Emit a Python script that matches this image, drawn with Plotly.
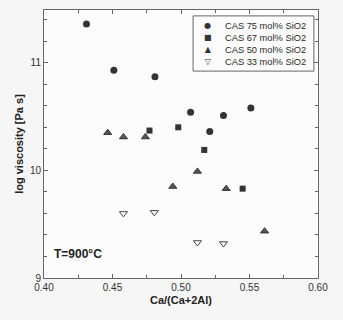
import plotly.graph_objects as go

x75 = [0.431, 0.451, 0.481, 0.507, 0.521, 0.531, 0.551]
y75 = [11.36, 10.93, 10.87, 10.54, 10.36, 10.51, 10.58]
x67 = [0.477, 0.498, 0.517, 0.545]
y67 = [10.37, 10.40, 10.19, 9.83]
x50 = [0.4465, 0.458, 0.474, 0.494, 0.512, 0.533, 0.561]
y50 = [10.35, 10.31, 10.31, 9.85, 9.99, 9.83, 9.435]
x33 = [0.458, 0.4805, 0.512, 0.531]
y33 = [9.60, 9.61, 9.33, 9.32]
names = ["CAS 75 mol% SiO2", "CAS 67 mol% SiO2", "CAS 50 mol% SiO2", "CAS 33 mol% SiO2"]
legend_glyphs = ["\u25CF", "\u25A0", "\u25B2", "\u25BD"]

FONT = "Liberation Sans, Arial"

fig = go.Figure()
fig.add_trace(go.Scatter(x=x75, y=y75, mode="markers", name=names[0],
                         marker=dict(symbol="circle", size=7, color="#333333")))
fig.add_trace(go.Scatter(x=x67, y=y67, mode="markers", name=names[1],
                         marker=dict(symbol="square", size=6, color="#333333")))
fig.add_trace(go.Scatter(x=x50, y=y50, mode="markers", name=names[2],
                         marker=dict(symbol="triangle-up", size=7, color="#555555",
                                     line=dict(color="#333333", width=1))))
fig.add_trace(go.Scatter(x=x33, y=y33, mode="markers", name=names[3],
                         marker=dict(symbol="triangle-down-open", size=7, color="#444444",
                                     line=dict(width=1))))

axis_common = dict(showline=True, linecolor="#666666", linewidth=1, mirror="ticks",
                   ticks="inside", ticklen=4, tickcolor="#666666", showgrid=False,
                   zeroline=False, automargin=False,
                   tickfont=dict(family=FONT, size=10, color="#333333"))

fig.update_xaxes(range=[0.40, 0.60], tickvals=[0.40, 0.45, 0.50, 0.55, 0.60],
                 ticktext=["0.40", "0.45", "0.50", "0.55", "0.60"],
                 minor=dict(dtick=0.025, tick0=0.4, ticks="inside", ticklen=3, tickcolor="#666666"),
                 title=dict(text="<b>Ca/(Ca+2Al)</b>", font=dict(family=FONT, size=11, color="#222222"), standoff=4),
                 **axis_common)
fig.update_yaxes(range=[9, 11.49], tickvals=[9, 10, 11],
                 minor=dict(dtick=0.2, tick0=9, ticks="inside", ticklen=3, tickcolor="#666666"),
                 title=dict(text="<b>log viscosity [Pa s]</b>", font=dict(family=FONT, size=11, color="#222222"), standoff=4),
                 **axis_common)

fig.add_annotation(x=0.03, y=0.09, xref="paper", yref="paper", xanchor="left", yanchor="middle",
                   text="<b>T=900°C</b>", showarrow=False,
                   font=dict(family=FONT, size=12, color="#222222"))

# compact legend box (native legend rows are too tall for this figure)
fig.add_shape(type="rect", xref="paper", yref="paper", x0=0.544, x1=0.985, y0=0.772, y1=0.978,
              line=dict(color="#666666", width=1), fillcolor="#fcfcfc", layer="above")
fig.add_annotation(x=0.599, y=0.875, xref="paper", yref="paper", xanchor="center", yanchor="middle",
                   text="<br>".join(f"<span style='font-size:8px'>{g}</span>" for g in legend_glyphs),
                   showarrow=False, align="center",
                   font=dict(family="DejaVu Sans", size=9.3, color="#333333"))
fig.add_annotation(x=0.655, y=0.875, xref="paper", yref="paper", xanchor="left", yanchor="middle",
                   text="<br>".join(names), showarrow=False, align="left",
                   font=dict(family=FONT, size=9.3, color="#2a2a2a"))

fig.update_layout(
    width=343, height=320,
    margin=dict(l=44, r=25, t=10, b=42, autoexpand=False),
    paper_bgcolor="#f6f6f6", plot_bgcolor="#fcfcfc",
    showlegend=False,
    font=dict(family=FONT),
)

fig.write_html("out.html", config={"displayModeBar": False},
               post_script="document.body.style.margin='0';document.body.style.background='#f6f6f6';")
